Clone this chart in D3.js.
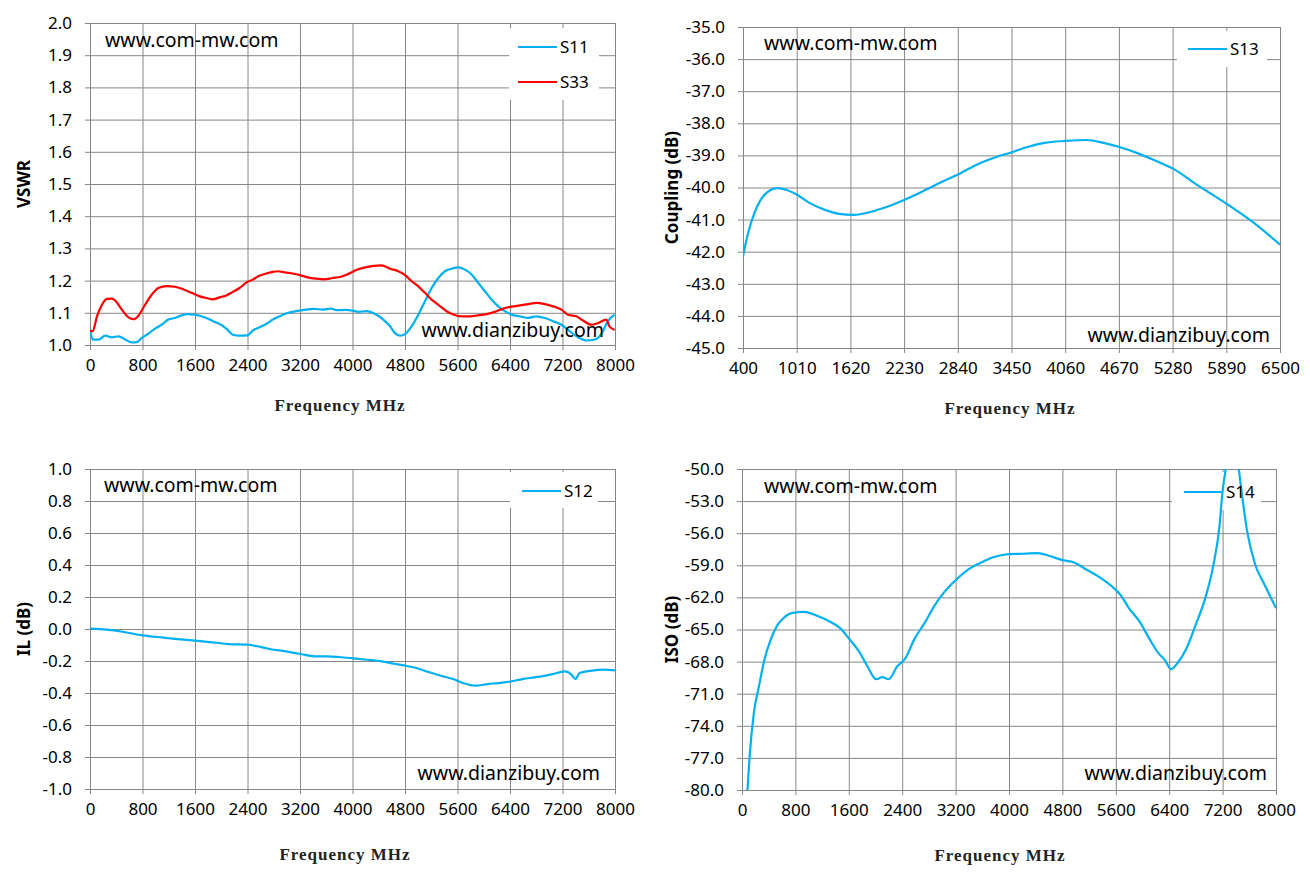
<!DOCTYPE html>
<html>
<head>
<meta charset="utf-8">
<script src="https://cdn.jsdelivr.net/npm/d3@7"></script>
<style>
  body { margin: 0; background: #fff; }
  svg { display: block; }
  .tick text { font-family: "Noto Sans", sans-serif; font-size: 17px; fill: #000; }
</style>
</head>
<body>
<div id="chart"></div>
<script>

// ---- data ----
var freqTicks = [0, 800, 1600, 2400, 3200, 4000, 4800, 5600, 6400, 7200, 8000];
var couplingFreqTicks = [400, 1010, 1620, 2230, 2840, 3450, 4060, 4670, 5280, 5890, 6500];
var vswrTicks = [1.0, 1.1, 1.2, 1.3, 1.4, 1.5, 1.6, 1.7, 1.8, 1.9, 2.0];
var couplingTicks = [-45, -44, -43, -42, -41, -40, -39, -38, -37, -36, -35];
var ilTicks = [-1.0, -0.8, -0.6, -0.4, -0.2, 0.0, 0.2, 0.4, 0.6, 0.8, 1.0];
var isoTicks = [-80, -77, -74, -71, -68, -65, -62, -59, -56, -53, -50];

var s11Freq = [0, 40, 131, 232, 334, 435, 536, 637, 713, 788, 889, 991, 1092, 1193, 1294, 1395, 1496, 1597, 1673, 1774,
  1875, 1976, 2077, 2178, 2279, 2396, 2481, 2583, 2684, 2785, 2886, 2987, 3088, 3189, 3290, 3416, 3543, 3669, 3770, 3897,
  3998, 4090, 4217, 4344, 4470, 4572, 4648, 4724, 4800, 4901, 5003, 5104, 5206, 5307, 5409, 5510, 5611, 5713, 5814, 5916,
  6017, 6119, 6220, 6321, 6423, 6550, 6676, 6803, 6930, 7056, 7183, 7309, 7436, 7563, 7690, 7791, 7892, 7994];
var s11Vswr = [1.051, 1.017, 1.017, 1.029, 1.024, 1.027, 1.017, 1.008, 1.009, 1.022, 1.035, 1.051, 1.063, 1.079, 1.084, 1.092, 1.096, 1.094, 1.091, 1.084,
  1.074, 1.065, 1.051, 1.032, 1.029, 1.030, 1.045, 1.055, 1.065, 1.079, 1.089, 1.098, 1.103, 1.107, 1.110, 1.112, 1.110, 1.113, 1.108, 1.109,
  1.107, 1.103, 1.105, 1.096, 1.079, 1.058, 1.037, 1.029, 1.034, 1.058, 1.094, 1.136, 1.177, 1.208, 1.229, 1.237, 1.241, 1.234, 1.219, 1.193,
  1.167, 1.141, 1.120, 1.105, 1.094, 1.089, 1.084, 1.089, 1.084, 1.074, 1.063, 1.043, 1.024, 1.014, 1.017, 1.034, 1.074, 1.094];

var s33Freq = [0, 40, 106, 182, 258, 334, 394, 485, 586, 662, 738, 839, 940, 1041, 1167, 1294, 1420, 1547, 1673, 1774,
  1875, 1976, 2077, 2178, 2279, 2396, 2481, 2557, 2684, 2785, 2861, 2962, 3088, 3199, 3315, 3442, 3568, 3694, 3821, 3998,
  4065, 4192, 4319, 4445, 4572, 4699, 4800, 4901, 5003, 5104, 5206, 5307, 5434, 5535, 5662, 5789, 5916, 6043, 6169, 6296,
  6423, 6550, 6676, 6803, 6930, 7056, 7183, 7284, 7411, 7512, 7639, 7740, 7867, 7918, 7994];
var s33Vswr = [1.045, 1.043, 1.089, 1.125, 1.143, 1.144, 1.136, 1.110, 1.086, 1.080, 1.091, 1.125, 1.156, 1.177, 1.183, 1.181, 1.173, 1.162, 1.151, 1.146,
  1.142, 1.148, 1.154, 1.165, 1.177, 1.196, 1.203, 1.213, 1.222, 1.227, 1.229, 1.226, 1.222, 1.217, 1.210, 1.206, 1.204, 1.208, 1.212, 1.227,
  1.234, 1.241, 1.246, 1.247, 1.237, 1.229, 1.217, 1.198, 1.182, 1.162, 1.141, 1.125, 1.105, 1.095, 1.089, 1.089, 1.092, 1.096, 1.103, 1.113,
  1.119, 1.123, 1.127, 1.131, 1.127, 1.120, 1.110, 1.094, 1.089, 1.076, 1.063, 1.068, 1.079, 1.057, 1.047];

var s13Freq = [400, 458, 530, 602, 674, 794, 890, 1011, 1155, 1323, 1491, 1660, 1804, 1996, 2236, 2477, 2669, 2861, 3054, 3246,
  3453, 3631, 3823, 4063, 4304, 4496, 4674, 4881, 5073, 5289, 5554, 5890, 6178, 6500];
var s13Coupling = [-42.15, -41.42, -40.79, -40.38, -40.15, -40.02, -40.07, -40.22, -40.48, -40.69, -40.82, -40.85, -40.79, -40.64, -40.38, -40.07, -39.81, -39.57, -39.29, -39.08,
  -38.90, -38.74, -38.61, -38.55, -38.52, -38.61, -38.74, -38.93, -39.15, -39.42, -39.91, -40.50, -41.05, -41.78];

var s12Freq = [0, 249, 497, 802, 1119, 1430, 1604, 1865, 2113, 2405, 2549, 2735, 2984, 3208, 3419, 3606, 3792, 4010, 4227, 4445,
  4632, 4806, 4974, 5161, 5347, 5534, 5689, 5875, 6062, 6217, 6403, 6590, 6776, 6962, 7118, 7242, 7336, 7398, 7460, 7647, 7833, 8000];
var s12Il = [0.002, -0.004, -0.017, -0.040, -0.054, -0.067, -0.073, -0.083, -0.094, -0.098, -0.108, -0.125, -0.140, -0.156, -0.171, -0.171, -0.175, -0.183, -0.192, -0.202,
  -0.217, -0.229, -0.244, -0.269, -0.292, -0.313, -0.338, -0.354, -0.344, -0.338, -0.329, -0.313, -0.302, -0.290, -0.275, -0.265, -0.285, -0.313, -0.275, -0.260, -0.254, -0.258];

var s14Freq = [82, 114, 177, 253, 335, 429, 524, 619, 745, 934, 1124, 1313, 1471, 1597, 1755, 1881, 2008, 2102, 2197, 2323,
  2449, 2576, 2734, 2891, 3018, 3207, 3397, 3586, 3775, 3996, 4217, 4438, 4596, 4817, 4975, 5164, 5354, 5543, 5669, 5796,
  5954, 6112, 6238, 6333, 6428, 6522, 6649, 6806, 6932, 7058, 7153, 7197, 7260, 7340, 7430, 7500, 7563, 7689, 7816, 8000];
var s14Iso = [-80.0, -76.88, -72.83, -70.33, -67.84, -65.97, -64.66, -63.95, -63.47, -63.35, -63.72, -64.25, -64.87, -65.81, -67.06, -68.46, -69.64, -69.46, -69.64, -68.46,
  -67.68, -65.97, -64.41, -62.69, -61.60, -60.35, -59.35, -58.73, -58.23, -57.95, -57.92, -57.86, -58.11, -58.54, -58.73, -59.42, -60.10, -60.98, -61.76, -63.00,
  -64.25, -65.97, -67.21, -67.84, -68.71, -68.15, -66.90, -64.41, -62.23, -59.10, -55.36, -52.25, -49.5, -47.0, -49.5, -52.87, -55.67, -58.95, -60.66, -63.0];

// ---- page ----
var blue = "#00B0F0", red = "#FF0000", gridColor = "#868686";

var svg = d3.select("#chart").append("svg")
    .attr("width", 1310)
    .attr("height", 878);

function fmt1(d) { return d.toFixed(1); }
function fmt0(d) { return String(d); }

function drawPanel(p) {
  var x = d3.scaleLinear().domain(p.xDomain).range([p.left, p.right]);
  var y = d3.scaleLinear().domain(p.yDomain).range([p.bottom, p.top]);
  var w = p.right - p.left, h = p.bottom - p.top;
  var g = svg.append("g");

  // grid
  g.append("g")
      .attr("transform", "translate(" + p.left + ",0)")
      .call(d3.axisLeft(y).tickValues(p.yTicks).tickSizeInner(-w).tickSizeOuter(0).tickFormat(""))
      .call(function(a) { a.select(".domain").remove(); a.selectAll("line").attr("stroke", gridColor); });
  g.append("g")
      .attr("transform", "translate(0," + p.bottom + ")")
      .call(d3.axisBottom(x).tickValues(p.xTicks).tickSizeInner(-h).tickSizeOuter(0).tickFormat(""))
      .call(function(a) { a.select(".domain").remove(); a.selectAll("line").attr("stroke", gridColor); });

  // axes with small outside ticks
  g.append("g")
      .attr("transform", "translate(" + p.left + ",0)")
      .call(d3.axisLeft(y).tickValues(p.yTicks).tickSize(5).tickPadding(13).tickFormat(fmt1))
      .call(function(a) { a.select(".domain").remove(); a.selectAll("line").attr("stroke", gridColor); });
  g.append("g")
      .attr("transform", "translate(0," + p.bottom + ")")
      .call(d3.axisBottom(x).tickValues(p.xTicks).tickSize(5).tickPadding(9).tickFormat(fmt0))
      .call(function(a) { a.select(".domain").remove(); a.selectAll("line").attr("stroke", gridColor); });

  // axis titles
  g.append("text")
      .attr("transform", "translate(" + p.yTitleX + "," + ((p.top + p.bottom) / 2) + ") rotate(-90)")
      .attr("text-anchor", "middle")
      .attr("dy", "0.35em")
      .style("font-family", "'Noto Sans', sans-serif")
      .style("font-weight", "bold")
      .style("font-size", "17px")
      .text(p.yTitle);
  g.append("text")
      .attr("x", p.xTitleX)
      .attr("y", p.xTitleY)
      .attr("text-anchor", "middle")
      .attr("dy", "0.35em")
      .style("font-family", "'Liberation Serif', serif")
      .style("font-weight", "bold")
      .style("font-size", "17px")
      .style("letter-spacing", "1px")
      .style("fill", "#222")
      .text("Frequency  MHz");

  // legend background (behind curves)
  g.append("rect")
      .attr("x", p.legend.x).attr("y", p.legend.y)
      .attr("width", p.legend.w).attr("height", p.legend.h)
      .attr("fill", "#fff");

  // curves
  var clipId = "clip" + p.id;
  svg.append("clipPath").attr("id", clipId)
    .append("rect").attr("x", p.left).attr("y", p.top).attr("width", w).attr("height", h);

  p.series.forEach(function(s) {
    var pts = s.freq.map(function(f, i) { return [f, s.values[i]]; });
    var line = d3.line()
        .x(function(d) { return x(d[0]); })
        .y(function(d) { return y(d[1]); })
        .curve(d3.curveMonotoneX);
    g.append("path")
        .datum(pts)
        .attr("clip-path", "url(#" + clipId + ")")
        .attr("fill", "none")
        .attr("stroke", s.color)
        .attr("stroke-width", 2.2)
        .attr("stroke-linejoin", "round")
        .attr("d", line);
  });

  // legend entries
  p.series.forEach(function(s, i) {
    var ly = p.legend.y0 + i * 35;
    g.append("line")
        .attr("x1", p.legend.lx).attr("x2", p.legend.lx + 39)
        .attr("y1", ly).attr("y2", ly)
        .attr("stroke", s.color).attr("stroke-width", 2.2);
    g.append("text")
        .attr("x", p.legend.lx + 42).attr("y", ly)
        .attr("dy", "0.35em")
        .style("font-family", "'Noto Sans', sans-serif")
        .style("font-size", "17px")
        .text(s.name);
  });

  // watermarks
  g.append("text")
      .attr("x", p.wm1[0]).attr("y", p.wm1[1])
      .attr("dy", "0.35em")
      .style("font-family", "'Noto Sans', sans-serif")
      .style("font-size", "19.5px")
      .text("www.com-mw.com");
  g.append("text")
      .attr("x", p.wm2[0]).attr("y", p.wm2[1])
      .attr("dy", "0.35em")
      .attr("text-anchor", "end")
      .style("font-family", "'Noto Sans', sans-serif")
      .style("font-size", "19.5px")
      .text("www.dianzibuy.com");
}

drawPanel({
  id: 1, left: 90, right: 615, top: 23, bottom: 345,
  xDomain: [0, 8000], yDomain: [1.0, 2.0], xTicks: freqTicks, yTicks: vswrTicks,
  yTitle: "VSWR", yTitleX: 24, xTitleX: 340, xTitleY: 405,
  legend: { x: 509, y: 28, w: 90, h: 72, lx: 518, y0: 47 },
  wm1: [105, 40], wm2: [604, 330],
  series: [
    { name: "S11", color: blue, freq: s11Freq, values: s11Vswr },
    { name: "S33", color: red, freq: s33Freq, values: s33Vswr }
  ]
});

drawPanel({
  id: 2, left: 743, right: 1280, top: 27, bottom: 348,
  xDomain: [400, 6500], yDomain: [-45, -35], xTicks: couplingFreqTicks, yTicks: couplingTicks,
  yTitle: "Coupling (dB)", yTitleX: 672, xTitleX: 1010, xTitleY: 408,
  legend: { x: 1177, y: 31, w: 90, h: 36, lx: 1188, y0: 49 },
  wm1: [764, 43], wm2: [1270, 335],
  series: [
    { name: "S13", color: blue, freq: s13Freq, values: s13Coupling }
  ]
});

drawPanel({
  id: 3, left: 90, right: 615, top: 469, bottom: 789,
  xDomain: [0, 8000], yDomain: [-1.0, 1.0], xTicks: freqTicks, yTicks: ilTicks,
  yTitle: "IL (dB)", yTitleX: 24, xTitleX: 345, xTitleY: 854,
  legend: { x: 510, y: 472, w: 88, h: 36, lx: 522, y0: 491 },
  wm1: [104, 485], wm2: [600, 773],
  series: [
    { name: "S12", color: blue, freq: s12Freq, values: s12Il }
  ]
});

drawPanel({
  id: 4, left: 742, right: 1276, top: 469, bottom: 790,
  xDomain: [0, 8000], yDomain: [-80, -50], xTicks: freqTicks, yTicks: isoTicks,
  yTitle: "ISO (dB)", yTitleX: 672, xTitleX: 1000, xTitleY: 855,
  legend: { x: 1172, y: 472, w: 89, h: 38, lx: 1184, y0: 492 },
  wm1: [764, 486], wm2: [1267, 773],
  series: [
    { name: "S14", color: blue, freq: s14Freq, values: s14Iso }
  ]
});

</script>
</body>
</html>
